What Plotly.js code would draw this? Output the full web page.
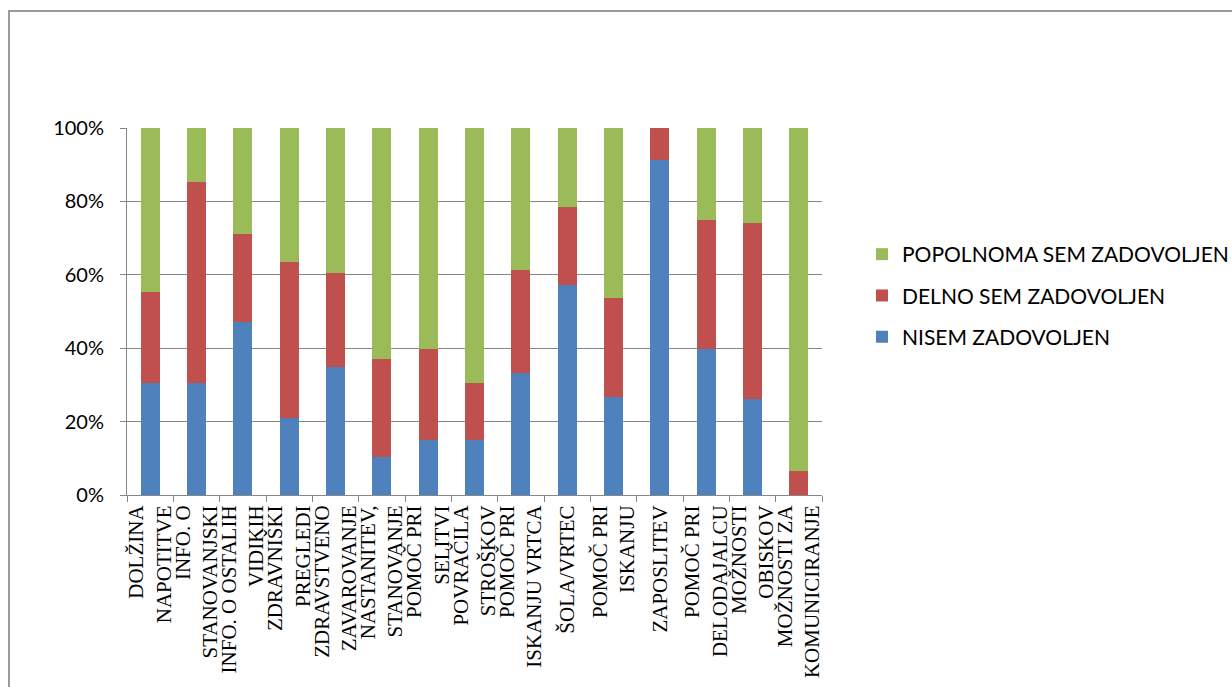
<!DOCTYPE html>
<html>
<head>
<meta charset="utf-8">
<script src="https://cdn.plot.ly/plotly-3.0.1.min.js"></script>
<style>
  html, body { margin: 0; padding: 0; background: #fff; }
  #chart { width: 1232px; height: 687px; }
</style>
</head>
<body>
<div id="chart"></div>
<script>
const categories = [
  "DOLŽINA<br>NAPOTITVE",
  "INFO. O<br>STANOVANJSKI",
  "INFO. O OSTALIH<br>VIDIKIH",
  "ZDRAVNIŠKI<br>PREGLEDI",
  "ZDRAVSTVENO<br>ZAVAROVANJE",
  "NASTANITEV,<br>STANOVANJE",
  "POMOČ PRI<br>SELITVI",
  "POVRAČILA<br>STROŠKOV",
  "POMOČ PRI<br>ISKANJU VRTCA",
  "ŠOLA/VRTEC",
  "POMOČ PRI<br>ISKANJU",
  "ZAPOSLITEV",
  "POMOČ PRI<br>DELODAJALCU",
  "MOŽNOSTI<br>OBISKOV",
  "MOŽNOSTI ZA<br>KOMUNICIRANJE"
];
const nisemZadovoljen   = [30.4, 30.4, 47.1, 21.1, 35.0, 10.4, 15.1, 15.1, 33.3, 57.2, 26.8, 91.3, 39.9, 26.2, 0];
const delnoZadovoljen   = [24.8, 54.9, 23.9, 42.3, 25.4, 26.6, 24.8, 15.3, 27.9, 21.2, 26.8, 8.7, 35.0, 47.8, 6.6];
const popolnomaZadovoljen = [44.8, 14.7, 29.0, 36.6, 39.6, 63.0, 60.1, 69.6, 38.8, 21.6, 46.4, 0, 25.1, 26.0, 93.4];
const seriesNames = ["NISEM ZADOVOLJEN", "DELNO SEM ZADOVOLJEN", "POPOLNOMA SEM ZADOVOLJEN"];
const yTickVals = [0, 20, 40, 60, 80, 100];
const yTickText = ["0%", "20%", "40%", "60%", "80%", "100%"];

const colors = ["#4F81BD", "#C0504D", "#9BBB59"];
const seriesValues = [nisemZadovoljen, delnoZadovoljen, popolnomaZadovoljen];

const traces = seriesValues.map((vals, i) => ({
  type: "bar",
  name: seriesNames[i],
  x: categories,
  y: vals,
  marker: { color: colors[i], line: { width: 0 } },
  legendgroup: "g" + i,
  legendrank: 3 - i,
  hoverinfo: "x+y+name"
}));

// plot area in pixels: x 127..822, y 128..495
const L = 127, R = 822, T = 128, B = 495, W = 1232, H = 687;
const pw = R - L, ph = B - T;
const px = v => (v - L) / pw;
const py = v => (B - v) / ph;

const layout = {
  width: W,
  height: H,
  margin: { l: L, r: W - R, t: T, b: H - B, pad: 0, autoexpand: false },
  paper_bgcolor: "#ffffff",
  plot_bgcolor: "#ffffff",
  barmode: "stack",
  bargap: 0.59,
  showlegend: true,
  font: { family: "Lato, 'Open Sans', sans-serif", color: "#000000", size: 19 },
  xaxis: {
    type: "category",
    tickangle: -90,
    tickfont: { family: "'Liberation Serif', 'DejaVu Serif', serif", size: 21, color: "#000" },
    ticks: "outside",
    tickson: "boundaries",
    ticklen: 6,
    tickcolor: "#868686",
    ticklabelstandoff: 1,
    showline: true,
    linecolor: "#868686",
    linewidth: 1,
    showgrid: false,
    zeroline: false,
    automargin: false
  },
  yaxis: {
    range: [0, 100],
    tickmode: "array",
    tickvals: yTickVals,
    ticktext: yTickText,
    tickfont: { family: "Lato, 'Open Sans', sans-serif", size: 20, color: "#000" },
    ticks: "outside",
    ticklen: 6,
    tickcolor: "#868686",
    ticklabelstandoff: 12,
    showline: true,
    linecolor: "#868686",
    linewidth: 1,
    showgrid: true,
    gridcolor: "#868686",
    gridwidth: 1,
    zeroline: false,
    automargin: false,
    fixedrange: true
  },
  legend: {
    x: px(862),
    y: py(234),
    xanchor: "left",
    yanchor: "top",
    traceorder: "grouped",
    tracegroupgap: 11,
    font: { family: "Lato, 'Open Sans', sans-serif", size: 21, color: "#000" },
    bgcolor: "rgba(0,0,0,0)",
    itemwidth: 30
  },
  shapes: [
    {
      type: "path",
      xref: "paper",
      yref: "paper",
      path: "M " + px(9) + " " + py(H + 5) + " L " + px(9) + " " + py(11) + " L " + px(W + 5) + " " + py(11),
      line: { color: "#9a9a9a", width: 2 }
    }
  ]
};

Plotly.newPlot("chart", traces, layout, { displayModeBar: false, staticPlot: true });
</script>
</body>
</html>
